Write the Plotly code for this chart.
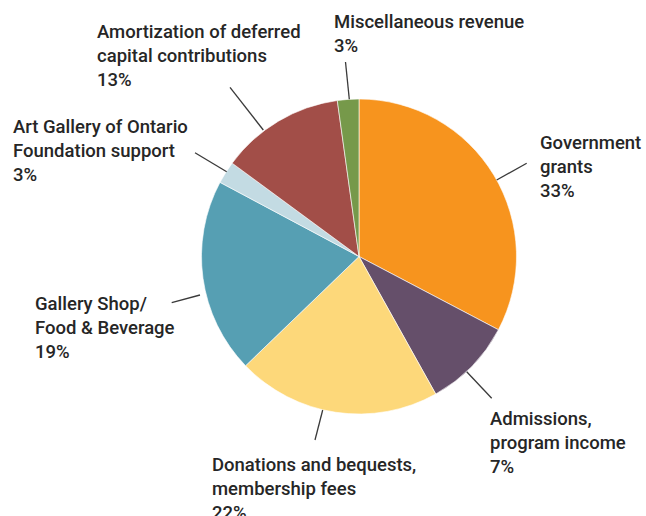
import plotly.graph_objects as go

W, H = 646, 516

categories = [
    "Government grants",
    "Admissions, program income",
    "Donations and bequests, membership fees",
    "Gallery Shop/ Food & Beverage",
    "Art Gallery of Ontario Foundation support",
    "Amortization of deferred capital contributions",
    "Miscellaneous revenue",
]
values = [32.7, 9.2, 20.9, 20.0, 2.3, 12.7, 2.2]
pct_labels = ["33%", "7%", "22%", "19%", "3%", "13%", "3%"]
label_lines = [
    ["Government", "grants"],
    ["Admissions,", "program income"],
    ["Donations and bequests,", "membership fees"],
    ["Gallery Shop/", "Food & Beverage"],
    ["Art Gallery of Ontario", "Foundation support"],
    ["Amortization of deferred", "capital contributions"],
    ["Miscellaneous revenue"],
]
colors = ["#F7941E", "#654F6A", "#FDD87A", "#569FB3", "#C3DBE3", "#A24E48", "#76994A"]

# Layout positions (pixels): label text anchor (left x, first-line center y) and leader line
label_pos = [
    (538, 143),
    (488, 419),
    (210, 465),
    (33, 304),
    (11, 127),
    (95, 32),
    (332, 22),
]
leaders = [
    ((496.7, 180.0), (526.7, 163.3)),
    ((466.7, 371.7), (491.7, 398.3)),
    ((322.7, 410.0), (315.0, 440.0)),
    ((200.0, 295.0), (171.7, 302.7)),
    ((226.7, 171.7), (195.0, 152.7)),
    ((263.3, 130.0), (230.0, 87.3)),
    ((349.3, 99.3), (345.5, 62.0)),
]

cx, cy, r = 359.0, 256.5, 157.5

def px(x):
    return x / W

def py(y):
    return 1 - y / H

fig = go.Figure(
    go.Pie(
        labels=categories,
        values=values,
        sort=False,
        direction="clockwise",
        rotation=0,
        marker=dict(colors=colors, line=dict(color="#ffffff", width=0.6)),
        textinfo="none",
        hoverinfo="none",
        showlegend=False,
        domain=dict(x=[px(cx - r), px(cx + r)], y=[py(cy + r), py(cy - r)]),
    )
)

font = dict(family="Roboto, Arial, sans-serif", size=18.5, color="#262626", weight=500)
line_gap = 24
annotations = []
shapes = []
for lines, pct, (lx, ly), ((x0, y0), (x1, y1)) in zip(label_lines, pct_labels, label_pos, leaders):
    for i, t in enumerate(lines + [pct]):
        annotations.append(
            dict(
                text=t,
                x=px(lx),
                y=py(ly + i * line_gap),
                xref="paper",
                yref="paper",
                xanchor="left",
                yanchor="middle",
                showarrow=False,
                font=font,
            )
        )
    shapes.append(
        dict(
            type="line",
            xref="paper",
            yref="paper",
            x0=px(x0),
            y0=py(y0),
            x1=px(x1),
            y1=py(y1),
            line=dict(color="#3a3a3a", width=1.3),
        )
    )

fig.update_layout(
    width=W,
    height=H,
    margin=dict(l=0, r=0, t=0, b=0),
    paper_bgcolor="#ffffff",
    plot_bgcolor="#ffffff",
    annotations=annotations,
    shapes=shapes,
)

fig.write_html(
    "out.html",
    config={"displayModeBar": False},
    post_script="document.body.style.margin='0';document.body.style.overflow='hidden';",
)
